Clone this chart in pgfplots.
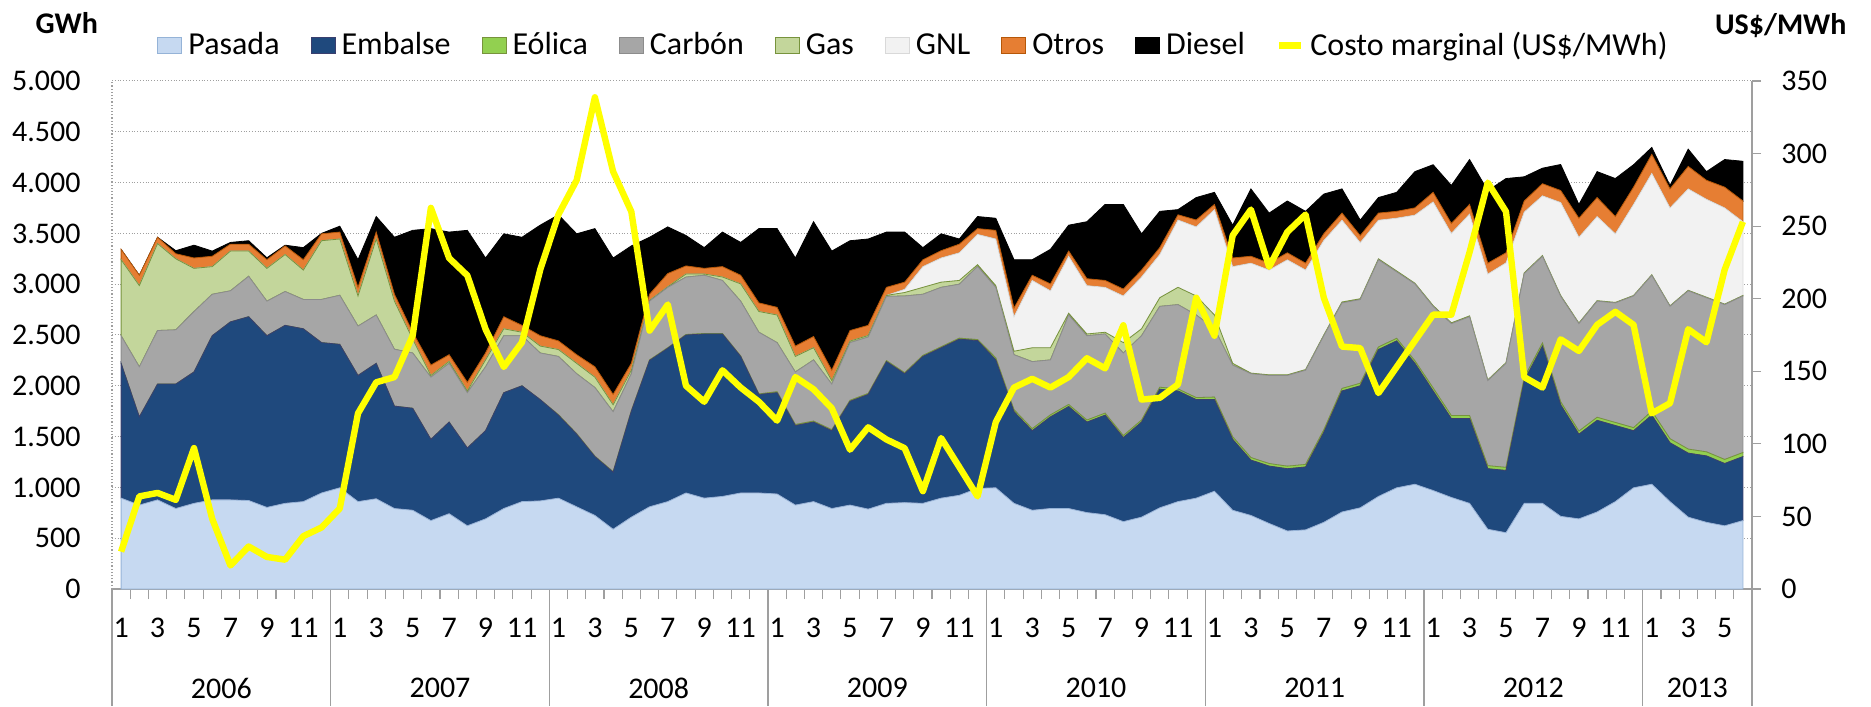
\documentclass[border=0pt]{standalone}
\usepackage{fontspec}
\setmainfont{Carlito}
\usepackage{pgfplots}
\pgfplotsset{compat=1.18}
\usepackage{pgfplotstable}

\definecolor{cPas}{HTML}{C6D9F1}\definecolor{cPasD}{HTML}{95B3D7}
\definecolor{cEmb}{HTML}{1F497D}\definecolor{cEmbD}{HTML}{3A3F6E}
\definecolor{cEol}{HTML}{92D050}\definecolor{cEolD}{HTML}{77933C}
\definecolor{cCar}{HTML}{A6A6A6}\definecolor{cCarD}{HTML}{8C8C8C}
\definecolor{cGas}{HTML}{C3D69B}\definecolor{cGasD}{HTML}{77933C}
\definecolor{cGnl}{HTML}{F2F2F2}\definecolor{cGnlD}{HTML}{D9D9D9}
\definecolor{cOtr}{HTML}{E67E33}\definecolor{cOtrD}{HTML}{B65708}
\definecolor{cDie}{HTML}{000000}\definecolor{cDieD}{HTML}{000000}
\definecolor{cCmg}{HTML}{FFFF00}

\newcommand{\fs}{\fontsize{15pt}{18pt}\selectfont}
\newcommand{\fl}{\fontsize{16pt}{19pt}\selectfont}

\pgfplotstableread{
x pas emb eol car gas gnl otr die cmg
0 894 1327 0 272 748 0 102 0 25.7
1 826 868 0 493 799 0 102 0 63.8
2 877 1140 0 527 856 0 62 0 66.2
3 792 1225 0 534 699 0 50 30 61.4
4 843 1293 0 595 425 0 102 126 97.1
5 877 1616 0 408 272 0 102 51 48.3
6 877 1752 0 306 391 0 68 17 16.2
7 871 1809 0 398 248 0 68 34 29.3
8 803 1690 0 340 323 0 85 19 22.1
9 843 1752 0 333 364 0 85 7 20.2
10 860 1701 0 289 289 0 102 119 36.4
11 945 1480 0 425 578 0 68 4 42.4
12 996 1412 0 483 554 0 68 58 55.5
13 860 1242 0 486 296 0 85 272 121
14 888 1333 0 476 748 0 68 153 142.4
15 792 1008 0 560 473 0 68 561 146
16 775 1004 0 544 136 0 68 1003 174.5
17 673 800 0 612 17 0 102 1343 262.6
18 741 902 0 578 19 0 66 1207 228
19 622 766 0 544 17 0 85 1496 216
20 690 868 0 629 68 0 68 935 179
21 792 1140 0 561 68 0 119 816 153
22 860 1140 0 493 34 0 68 867 170
23 867 997 0 459 68 0 102 1088 220
24 894 817 5 573 68 0 85 1241 258
25 809 715 5 590 102 0 85 1190 281.7
26 724 579 5 675 102 0 102 1360 338.8
27 588 562 5 590 68 0 102 1343 287.6
28 707 1043 5 364 34 0 68 1156 260
29 809 1441 5 578 7 0 61 561 178
30 860 1510 5 594 6 0 130 459 196
31 945 1555 5 565 30 0 80 299 140
32 894 1616 5 573 12 0 56 204 129
33 911 1599 5 522 34 0 102 340 150.7
34 945 1344 5 539 170 0 85 323 138.8
35 945 970 5 607 204 0 85 731 129
36 935 997 10 483 272 0 75 775 116
37 826 783 10 517 153 0 102 867 146
38 860 783 10 602 120 0 110 1130 137.6
39 792 766 10 449 34 0 102 1173 124.5
40 826 1021 10 568 15 0 104 884 96
41 786 1129 10 555 15 0 100 850 111.4
42 843 1395 10 632 10 0 79 544 103
43 850 1269 10 755 34 32 70 493 97
44 843 1446 10 602 68 204 67 120 67.4
45 894 1480 10 585 51 238 72 166 104
46 922 1537 10 531 37 272 85 51 84
47 990 1455 10 720 17 298 57 119 63.8
48 996 1259 20 694 17 459 85 119 115
49 843 902 20 541 34 340 85 476 138.8
50 775 783 20 660 136 663 51 153 144.8
51 792 902 20 541 119 561 68 340 138.8
52 792 1004 20 881 17 561 51 255 146
53 752 891 20 830 17 476 68 561 159
54 731 980 20 779 17 442 68 748 152
55 663 827 20 813 102 459 68 833 181.7
56 707 936 20 830 68 510 68 357 130.5
57 799 1167 20 796 85 425 68 357 131.7
58 860 1089 20 830 170 663 51 51 141
59 894 970 20 813 187 680 68 221 200.7
60 962 902 25 672 136 1037 51 119 174.5
61 775 698 25 706 17 952 85 323 243.6
62 724 545 25 825 6 1082 68 663 261.4
63 645 565 25 867 6 1031 68 493 222
64 571 613 25 893 6 1132 69 510 246
65 582 619 25 927 7 980 67 510 258
66 656 885 25 927 7 930 66 391 200.7
67 758 1191 25 842 9 805 70 238 167
68 799 1201 25 824 8 552 69 153 166
69 911 1446 25 859 9 380 70 153 135
70 996 1446 25 655 8 520 67 187 153
71 1031 1190 25 757 7 670 71 357 171
72 969 980 30 803 8 1020 94 272 189
73 901 776 30 905 8 880 98 374 189
74 843 834 30 973 8 1002 95 442 232
75 588 596 30 837 7 1042 107 714 280
76 554 613 30 1024 7 982 99 731 260
77 843 1208 30 1024 7 598 109 238 146
78 843 1548 30 854 7 588 119 153 138.8
79 715 1098 30 1039 7 915 118 256 172
80 690 834 30 1058 6 844 187 136 164
81 758 902 30 1143 5 828 187 255 182
82 860 749 30 1177 5 675 170 374 191
83 996 562 30 1296 5 896 170 221 182
84 1031 680 40 1337 5 998 187 68 121
85 860 579 40 1303 5 964 187 34 128
86 707 630 40 1558 5 998 221 170 179
87 656 654 40 1517 5 964 187 85 170
88 622 613 40 1524 5 947 204 272 220
89 673 630 40 1541 5 726 204 391 253
}\datatab

\pgfplotsset{
  base/.style={
    at={(0,0)}, anchor=south west,
    scale only axis, width=820pt, height=254pt,
    xmin=-0.5, xmax=89.5,
    tick label style={font=\fs},
    /pgf/number format/assume math mode=true,
  },
  legsq/.style 2 args={legend image code/.code={\draw[fill=#1, draw=#2, line width=0.5pt] (0pt,-4pt) rectangle (12pt,4pt);}},
}

\begin{document}
\begin{tikzpicture}
\useasboundingbox (-56pt,-58.5pt) rectangle (879.5pt,294.5pt);
\begin{axis}[base,
  ymin=0, ymax=5000,
  stack plots=y,
  clip=false,
  axis x line*=bottom, axis y line*=left,
  separate axis lines,
  x axis line style={draw=gray!75, line width=0.6pt},
  y axis line style={draw=gray!75, densely dotted, line width=0.6pt},
  ytick={0,500,...,5000},
  ymajorgrids, grid style={densely dotted, gray!75, line width=0.5pt},
  ytick style={draw=none},
  yticklabel style={anchor=east, inner sep=0pt, xshift=-10.5pt,
     /pgf/number format/.cd, 1000 sep={.}},
  xtick={-0.5,1.5,...,87.5},
  xticklabels={1,3,5,7,9,11,1,3,5,7,9,11,1,3,5,7,9,11,1,3,5,7,9,11,1,3,5,7,9,11,1,3,5,7,9,11,1,3,5,7,9,11,1,3,5},
  minor xtick={0.5,2.5,...,88.5},
  tick align=outside, major tick length=5pt, minor tick length=5pt,
  xtick style={draw=gray!75, line width=0.6pt},
  minor x tick style={draw=gray!75, line width=0.6pt},
  xticklabel style={anchor=center, inner sep=0pt, xshift=4.556pt, yshift=-14.5pt},
]
\addplot[fill=cPas, draw=cPasD, line width=0.4pt] table[x=x, y=pas]{\datatab} \closedcycle;
\addplot[fill=cEmb, draw=cEmbD, line width=0.4pt] table[x=x, y=emb]{\datatab} \closedcycle;
\addplot[fill=cEol, draw=cEolD, line width=0.4pt] table[x=x, y=eol]{\datatab} \closedcycle;
\addplot[fill=cCar, draw=cCarD, line width=0.4pt] table[x=x, y=car]{\datatab} \closedcycle;
\addplot[fill=cGas, draw=cGasD, line width=0.4pt] table[x=x, y=gas]{\datatab} \closedcycle;
\addplot[fill=cGnl, draw=cGnlD, line width=0.4pt] table[x=x, y=gnl]{\datatab} \closedcycle;
\addplot[fill=cOtr, draw=cOtrD, line width=0.4pt] table[x=x, y=otr]{\datatab} \closedcycle;
\addplot[fill=cDie, draw=cDieD, line width=0.4pt] table[x=x, y=die]{\datatab} \closedcycle;
\foreach \b in {-0.5,11.5,23.5,35.5,47.5,59.5,71.5,83.5,89.5}{
  \edef\tmp{\noexpand\draw[gray!75, line width=0.6pt] (axis cs:\b,0) -- ([yshift=-58.5pt]axis cs:\b,0);}\tmp
}
\node[font=\fs] at ([yshift=-49.5pt]axis cs:5.5,0) {2006};
\node[font=\fs] at ([yshift=-49.5pt]axis cs:17.5,0) {2007};
\node[font=\fs] at ([yshift=-49.5pt]axis cs:29.5,0) {2008};
\node[font=\fs] at ([yshift=-49.5pt]axis cs:41.5,0) {2009};
\node[font=\fs] at ([yshift=-49.5pt]axis cs:53.5,0) {2010};
\node[font=\fs] at ([yshift=-49.5pt]axis cs:65.5,0) {2011};
\node[font=\fs] at ([yshift=-49.5pt]axis cs:77.5,0) {2012};
\node[font=\fs] at ([yshift=-49.5pt]axis cs:86.5,0) {2013};
\node[font=\fs\bfseries] at ([xshift=-22.6pt, yshift=283pt]axis cs:-0.5,0) {GWh};
\end{axis}

\begin{axis}[base,
  ymin=0, ymax=350,
  clip=false,
  axis x line=none, axis y line*=right,
  y axis line style={draw=gray!75, line width=0.6pt},
  ytick={0,50,...,350},
  tick align=outside, major tick length=4.5pt,
  ytick style={draw=gray!75, line width=0.6pt},
  yticklabel style={anchor=west, inner sep=0pt, xshift=10pt},
  legend columns=-1,
  legend style={at={(0.4884,1.0701)}, anchor=center, draw=none, fill=none,
    font=\fl, inner sep=0pt, nodes={inner sep=0.5pt},
    /tikz/every odd column/.append style={column sep=2.5pt},
    /tikz/every even column/.append style={column sep=15pt}},
]
\addlegendimage{legsq={cPas}{cPasD}}\addlegendentry{Pasada}
\addlegendimage{legsq={cEmb}{cEmbD}}\addlegendentry{Embalse}
\addlegendimage{legsq={cEol}{cEolD}}\addlegendentry{Eólica}
\addlegendimage{legsq={cCar}{cCarD}}\addlegendentry{Carbón}
\addlegendimage{legsq={cGas}{cGasD}}\addlegendentry{Gas}
\addlegendimage{legsq={cGnl}{cGnlD}}\addlegendentry{GNL}
\addlegendimage{legsq={cOtr}{cOtrD}}\addlegendentry{Otros}
\addlegendimage{legsq={cDie}{cDieD}}\addlegendentry{Diesel}
\addplot[color=cCmg, line width=3.2pt, line join=round,
  legend image code/.code={\draw[cCmg, line width=3.2pt] (0pt,0pt) -- (11pt,0pt);}]
  table[x=x, y=cmg]{\datatab};
\addlegendentry{Costo marginal (US\$/MWh)}
\node[font=\fs\bfseries] at ([xshift=14.4pt, yshift=281.6pt]axis cs:89.5,0) {US\$/MWh};
\end{axis}
\end{tikzpicture}
\end{document}
